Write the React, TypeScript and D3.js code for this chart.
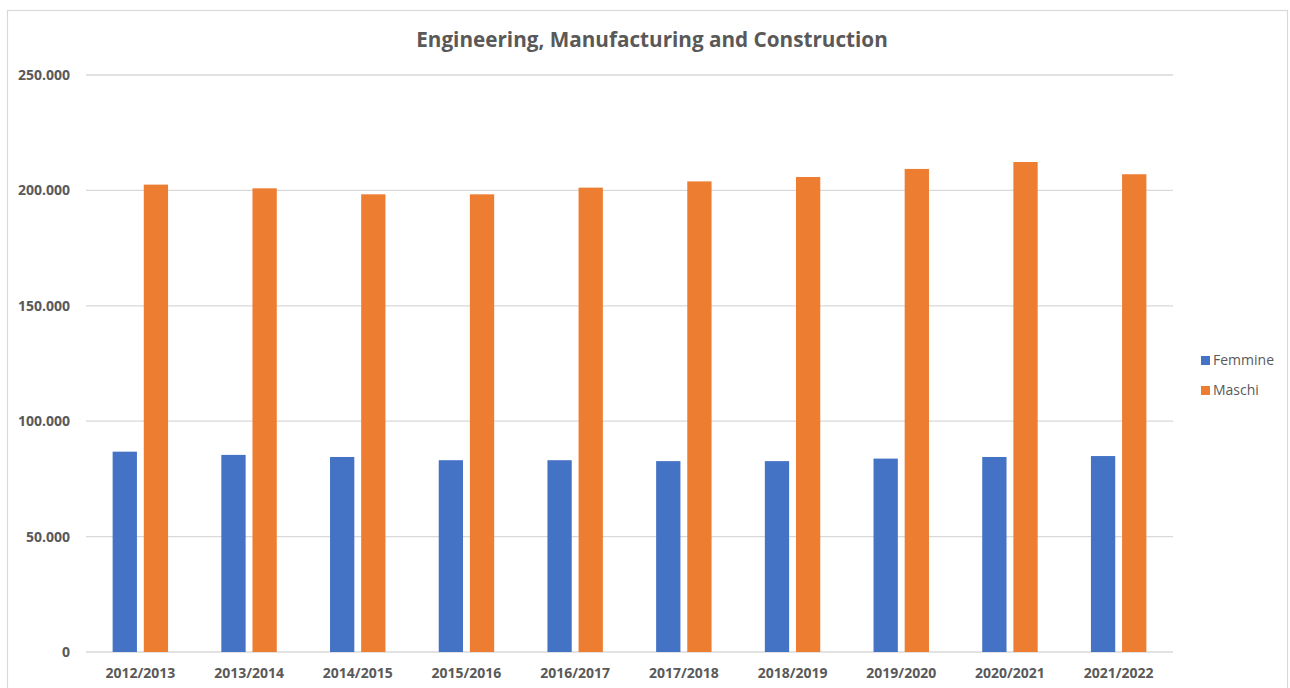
import React from "react";
import * as d3 from "d3";

const categories = [
  "2012/2013", "2013/2014", "2014/2015", "2015/2016", "2016/2017",
  "2017/2018", "2018/2019", "2019/2020", "2020/2021", "2021/2022",
];
const femmine = [86800, 85400, 84500, 83100, 83100, 82700, 82700, 83800, 84500, 84900];
const maschi = [202500, 200900, 198300, 198300, 201200, 203900, 205800, 209300, 212300, 207000];
const seriesNames = ["Femmine", "Maschi"];
const seriesColors = ["#4472C4", "#ED7D31"];
const yTicks = [0, 50000, 100000, 150000, 200000, 250000];
const title = "Engineering, Manufacturing and Construction";

const W = 1290;
const H = 688;
const plot = { left: 86, right: 1173, top: 75, bottom: 652 };
const textColor = "#595959";
const gridColor = "#d9d9d9";
const font = "'Open Sans', 'Liberation Sans', sans-serif";

const locale = d3.formatLocale({ decimal: ",", thousands: ".", grouping: [3], currency: ["€", ""] });
const fmt = locale.format(",d");

export default function App() {
  const x0 = d3.scaleBand<string>().domain(categories).range([plot.left, plot.right]).paddingInner(0.49).paddingOuter(0.245);
  const x1 = d3.scaleBand<string>().domain(seriesNames).range([0, x0.bandwidth()]).paddingInner(0.22);
  const y = d3.scaleLinear().domain([0, 250000]).range([plot.bottom, plot.top]);
  const data = [femmine, maschi];

  return (
    <div style={{ position: "absolute", left: 0, top: 0 }}>
      <svg width={W} height={H} style={{ display: "block", background: "#fff" }}>
        <rect x={7.5} y={10.5} width={1280} height={700} fill="#fff" stroke={gridColor} strokeWidth={1.2} />
        <text x={652} y={47} textAnchor="middle" fontFamily={font} fontWeight="bold" fontSize={20.7} fill={textColor}>
          {title}
        </text>
        {yTicks.map((t) => (
          <g key={t}>
            <line x1={plot.left} x2={plot.right} y1={y(t)} y2={y(t)} stroke={gridColor} strokeWidth={1.3} />
            <text x={70} y={y(t)} dy="0.35em" textAnchor="end" fontFamily={font} fontWeight="bold" fontSize={14} fill={textColor}>
              {fmt(t)}
            </text>
          </g>
        ))}
        {categories.map((c, i) => (
          <g key={c} transform={`translate(${x0(c)},0)`}>
            {seriesNames.map((s, k) => (
              <rect
                key={s}
                x={x1(s)}
                y={y(data[k][i])}
                width={x1.bandwidth()}
                height={y(0) - y(data[k][i])}
                fill={seriesColors[k]}
              />
            ))}
            <text x={x0.bandwidth() / 2} y={678} textAnchor="middle" fontFamily={font} fontWeight="bold" fontSize={14} fill={textColor}>
              {c}
            </text>
          </g>
        ))}
        {seriesNames.map((s, k) => (
          <g key={s} transform={`translate(1201,${356 + k * 30})`}>
            <rect x={0} y={0} width={9} height={9} fill={seriesColors[k]} />
            <text x={12} y={4.5} dy="0.35em" fontFamily={font} fontSize={14} fill={textColor}>
              {s}
            </text>
          </g>
        ))}
      </svg>
    </div>
  );
}
